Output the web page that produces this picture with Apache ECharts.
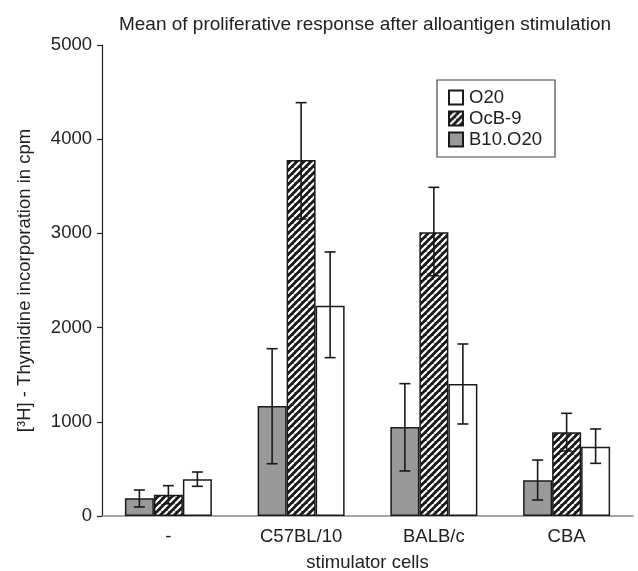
<!DOCTYPE html>
<html>
<head>
<meta charset="utf-8">
<script src="https://cdn.jsdelivr.net/npm/echarts@6/dist/echarts.min.js"></script>
<style>
  html, body { margin: 0; padding: 0; background: #fff; }
  #chart { width: 638px; height: 571px; }
</style>
</head>
<body>
<div id="chart"></div>
<script>
// data
const categories = ['-', 'C57BL/10', 'BALB/c', 'CBA'];
const b10Mean = [188, 1168, 945, 379];
const b10Low = [96, 555, 478, 170];
const b10High = [276, 1776, 1405, 594];
const ocbMean = [226, 3779, 3011, 888];
const ocbLow = [130, 3153, 2551, 690];
const ocbHigh = [322, 4388, 3489, 1090];
const o20Mean = [390, 2232, 1401, 736];
const o20Low = [315, 1681, 977, 559];
const o20High = [467, 2803, 1826, 924];
const yTicks = [0, 1000, 2000, 3000, 4000, 5000];

const BAR_W = 29;
const FONT = 'Liberation Sans, Arial, sans-serif';
const FS = 18.5;

// hatch pattern for OcB-9 (black with white "/" stripes)
function hatch() {
  const s = 7;
  const c = document.createElement('canvas');
  c.width = s; c.height = s;
  const ctx = c.getContext('2d');
  ctx.fillStyle = '#1a1a1a';
  ctx.fillRect(0, 0, s, s);
  ctx.strokeStyle = '#fff';
  ctx.lineWidth = 2.2;
  ctx.beginPath();
  [-s, 0, s].forEach(k => {
    ctx.moveTo(k, s);
    ctx.lineTo(k + s, 0);
  });
  ctx.stroke();
  return c;
}

function errSeries(low, high, offset) {
  return {
    type: 'custom',
    z: 10,
    silent: true,
    data: categories.map((c, i) => [i, low[i], high[i]]),
    renderItem: function (params, api) {
      const lo = api.coord([api.value(0), api.value(1)]);
      const hi = api.coord([api.value(0), api.value(2)]);
      const x = lo[0] + offset * BAR_W;
      const w = 5.5;
      const st = { stroke: '#1a1a1a', lineWidth: 1.6 };
      return {
        type: 'group',
        children: [
          { type: 'line', shape: { x1: x, y1: lo[1], x2: x, y2: hi[1] }, style: st },
          { type: 'line', shape: { x1: x - w, y1: lo[1], x2: x + w, y2: lo[1] }, style: st },
          { type: 'line', shape: { x1: x - w, y1: hi[1], x2: x + w, y2: hi[1] }, style: st }
        ]
      };
    }
  };
}

let myChart = echarts.init(document.getElementById('chart'));
myChart.setOption({
  backgroundColor: '#fff',
  animation: false,
  textStyle: { fontFamily: FONT, color: '#222' },
  title: {
    text: 'Mean of proliferative response after alloantigen stimulation',
    left: 360,
    textAlign: 'center',
    top: 10,
    textStyle: { fontFamily: FONT, fontSize: 19, fontWeight: 'normal', color: '#222' }
  },
  legend: {
    data: ['O20', 'OcB-9', 'B10.O20'],
    orient: 'vertical',
    left: 437,
    top: 80,
    padding: [8, 13, 8, 11],
    borderColor: '#444',
    borderWidth: 1.2,
    borderRadius: 0,
    itemWidth: 14,
    itemHeight: 14,
    itemGap: 2,
    icon: 'rect',
    textStyle: { fontFamily: FONT, fontSize: FS, color: '#222', padding: [0, 0, 0, 1] }
  },
  grid: { left: 102, right: 5, top: 45, bottom: 55, outerBoundsMode: 'none' },
  xAxis: {
    type: 'category',
    data: categories,
    name: 'stimulator cells',
    nameLocation: 'middle',
    nameGap: 37,
    nameTextStyle: { fontFamily: FONT, fontSize: FS, color: '#222' },
    axisLine: { lineStyle: { color: '#888', width: 1.5 } },
    axisTick: { show: false },
    axisLabel: { fontFamily: FONT, fontSize: FS, color: '#222', margin: 11 }
  },
  yAxis: {
    type: 'value',
    min: yTicks[0],
    max: yTicks[yTicks.length - 1],
    interval: 1000,
    name: '[\u00B3H] - Thymidine incorporation in cpm',
    nameLocation: 'middle',
    nameGap: 68,
    nameTextStyle: { fontFamily: FONT, fontSize: FS, color: '#222' },
    splitLine: { show: false },
    axisLine: { show: true, lineStyle: { color: '#222', width: 1.2 } },
    axisTick: { show: true, length: 5, lineStyle: { color: '#222', width: 1.2 } },
    axisLabel: { fontFamily: FONT, fontSize: FS, color: '#222', margin: 10, formatter: v => String(v) }
  },
  series: [
    {
      name: 'B10.O20', type: 'bar', barWidth: BAR_W, barGap: '0%',
      itemStyle: { color: '#999', borderColor: '#1a1a1a', borderWidth: 1.5 },
      data: b10Mean
    },
    {
      name: 'OcB-9', type: 'bar', barWidth: BAR_W, barGap: '0%',
      itemStyle: { color: { image: hatch(), repeat: 'repeat' }, borderColor: '#1a1a1a', borderWidth: 1.5 },
      data: ocbMean
    },
    {
      name: 'O20', type: 'bar', barWidth: BAR_W, barGap: '0%',
      itemStyle: { color: '#fff', borderColor: '#1a1a1a', borderWidth: 1.5 },
      data: o20Mean
    },
    errSeries(b10Low, b10High, -1),
    errSeries(ocbLow, ocbHigh, 0),
    errSeries(o20Low, o20High, 1)
  ]
});
</script>
</body>
</html>
